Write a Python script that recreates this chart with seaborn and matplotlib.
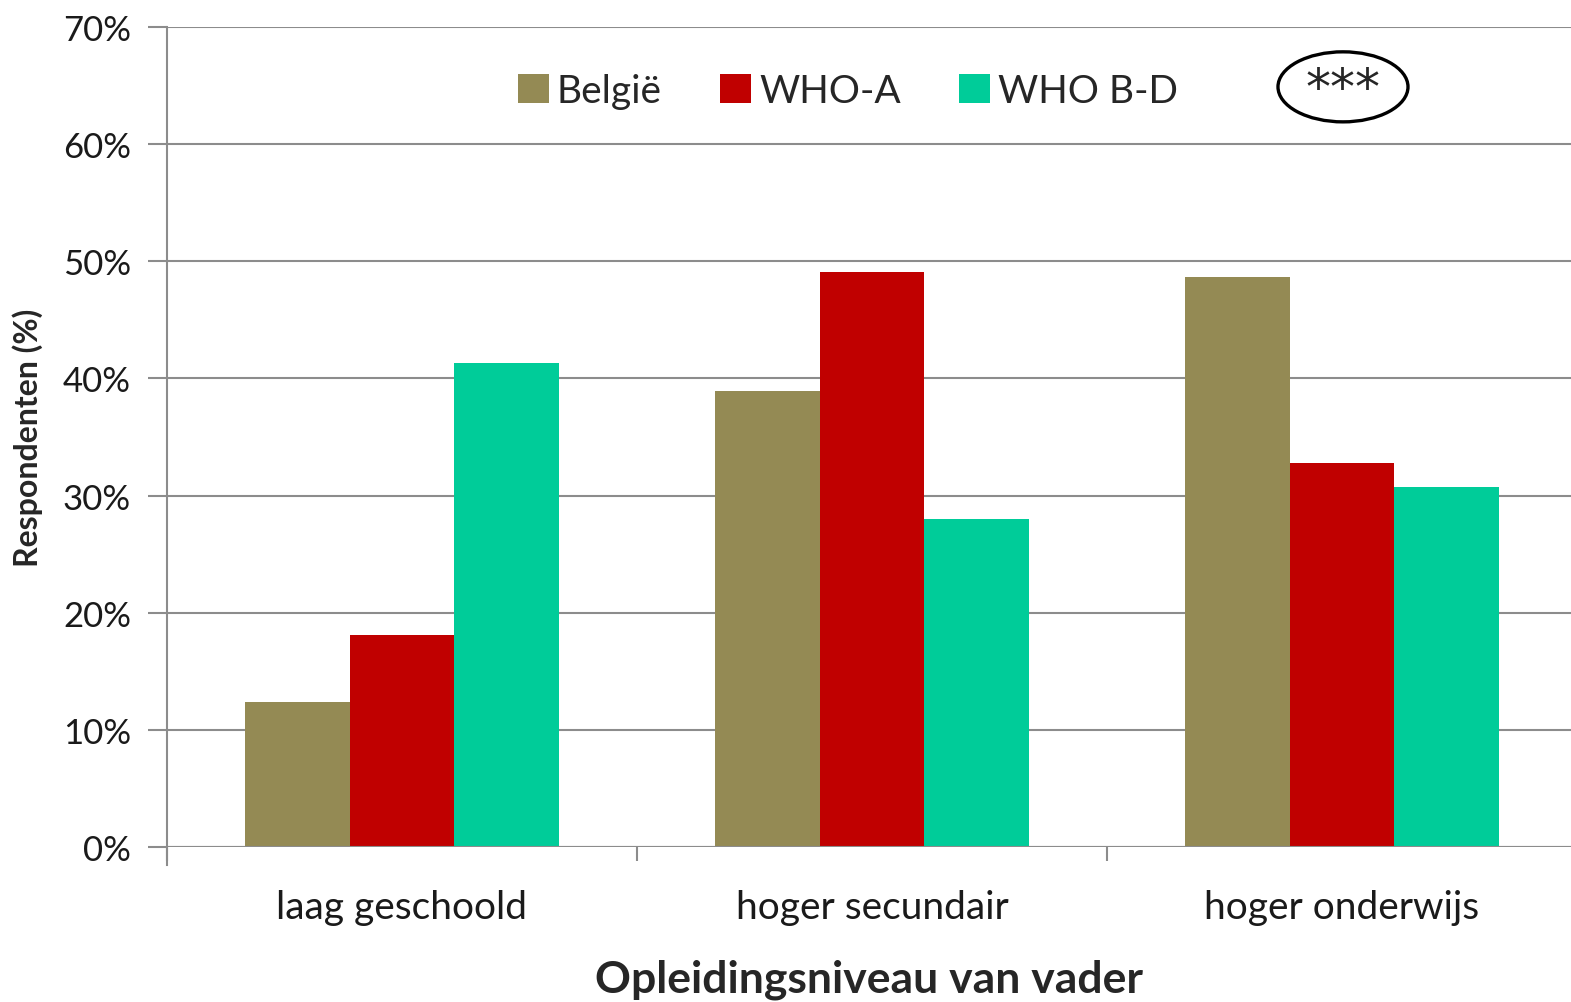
import pandas as pd
import matplotlib
matplotlib.use("Agg")
import matplotlib.pyplot as plt
from matplotlib.patches import Ellipse
from matplotlib.ticker import PercentFormatter
import seaborn as sns

# data
categories = ["laag geschoold", "hoger secundair", "hoger onderwijs"]
groups = ["België", "WHO-A", "WHO B-D"]
belgie = [12.4, 38.9, 48.7]
who_a = [18.1, 49.1, 32.8]
who_bd = [41.3, 28.0, 30.7]
colors = ["#948A54", "#C00000", "#00CC99"]

rows = []
for g, vals in zip(groups, [belgie, who_a, who_bd]):
    for c, v in zip(categories, vals):
        rows.append({"cat": c, "groep": g, "pct": v})
df = pd.DataFrame(rows)

sns.set_style("white")
plt.rcParams["font.family"] = ["Lato", "DejaVu Sans"]

fig = plt.figure(figsize=(15.71, 10.03), dpi=100)
ax = fig.add_axes([0.1063, 0.1545, 0.8937, 0.8176])

sns.barplot(data=df, x="cat", y="pct", hue="groep", hue_order=groups,
            palette=colors, width=0.666, gap=0, saturation=1,
            edgecolor="none", linewidth=0, ax=ax, zorder=3)

ax.set_ylim(0, 70)
ax.set_xlim(-0.5, -0.5 + 1404 / 470)
ax.set_yticks(range(0, 71, 10))
ax.yaxis.set_major_formatter(PercentFormatter(decimals=0))
ax.grid(axis="y", color="#8c8c8c", linewidth=1.5, zorder=0)
ax.set_axisbelow(True)

for s in ["top", "right", "bottom"]:
    ax.spines[s].set_visible(False)
ax.spines["left"].set_color("#8c8c8c")
ax.spines["left"].set_linewidth(1.5)
ax.spines["left"].set_bounds(-1.5, 70)

ax.tick_params(axis="y", left=True, length=14, width=1.5, color="#8c8c8c",
               labelsize=25, pad=12, labelcolor="#1a1a1a")
# x ticks sit at category boundaries, labels at centers
ax.set_xticks([-0.5, 0.5, 1.5], minor=True)
ax.tick_params(axis="x", which="minor", bottom=True, length=10, width=1.5,
               color="#8c8c8c", direction="out")
ax.tick_params(axis="x", which="major", bottom=False, length=0,
               labelsize=28, pad=30, labelcolor="#1a1a1a")
ax.axhline(0, color="#8c8c8c", linewidth=1.5, zorder=4)

ax.set_xlabel("Opleidingsniveau van vader", fontsize=32,
              fontweight="bold", labelpad=24)
ax.set_ylabel("Respondenten (%)", fontsize=23, fontweight="bold",
              labelpad=14)

leg = ax.legend(loc="center", bbox_to_anchor=(0.485, 0.922), ncol=3,
                frameon=False, fontsize=28, handlelength=0.8,
                handleheight=0.8, handletextpad=0.2, columnspacing=1.5)

ax.add_patch(Ellipse((0.8376, 0.927), 0.0926, 0.0854,
                     transform=ax.transAxes, fill=False,
                     edgecolor="black", linewidth=2.4, zorder=5))
ax.text(0.8376, 0.924, "***", transform=ax.transAxes, fontsize=36,
        ha="center", va="center", family="DejaVu Sans")

fig.savefig("out.png", dpi=100)
